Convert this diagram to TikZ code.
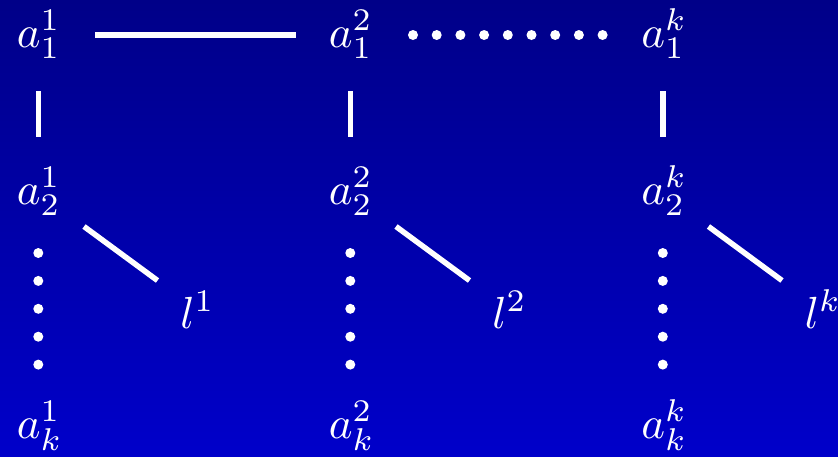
\documentclass[tikz,border=0pt]{standalone}
\begin{document}
\begin{tikzpicture}[x=1pt,y=-1pt,
  lbl/.style={anchor=base west,inner sep=0pt,text=white,scale=4.5},
  bar/.style={draw=white,line width=5.5pt},
  dotrow/.style={draw=white,line width=10pt,line cap=round}]
  % background
  \shade[top color={rgb,255:red,0;green,0;blue,136},
         bottom color={rgb,255:red,0;green,0;blue,202}]
    (0,0) rectangle (838,456);
  \useasboundingbox (0,0) rectangle (838,456);

  % labels, one column per chain
  \foreach \i/\s/\x in {1/1/16,2/2/328,3/k/640.5}{
    \node[lbl] (t\i) at (\x,47)  {$a_1^{\s}$};
    \node[lbl] (m\i) at (\x,204) {$a_2^{\s}$};
    \node[lbl] (b\i) at (\x,438) {$a_k^{\s}$};
    \node[lbl] (l\i) at (\x+163.5,328) {$l^{\s}$};
  }

  % top row links
  \draw[bar] ([shift={(79,-12)}]t1.base west) -- ([shift={(-32,-12)}]t2.base west);
  \draw[dotrow,dash pattern=on 0pt off 23.7pt]
    ([shift={(85,-12)}]t2.base west) -- ([shift={(-37.3,-12)}]t3.base west);

  % column links
  \foreach \i in {1,2,3}{
    \draw[bar] ([shift={(22.5,44)}]t\i.base west) -- ([shift={(22.5,-67)}]m\i.base west);
    \draw[dotrow,dash pattern=on 0pt off 27.9pt]
      ([shift={(22.3,49)}]m\i.base west) -- ([shift={(22.3,-72.8)}]b\i.base west);
    \draw[bar] ([shift={(68,22.5)}]m\i.base west) -- ([shift={(-22,-47.5)}]l\i.base west);
  }
\end{tikzpicture}
\end{document}
